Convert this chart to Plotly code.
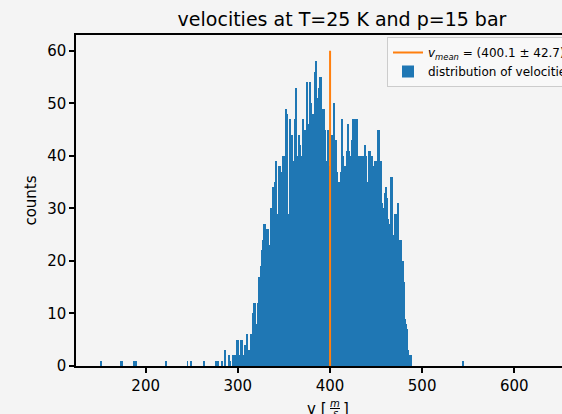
import plotly.graph_objects as go

# ---------------- data ----------------
title_text = "velocities at T=25 K and p=15 bar"
v_mean = 400.1
v_std = 42.7
vline_height = 60

bin_width = 1.085          # m/s per histogram bin
dense_start = 286.05       # left edge of first bin of the main block

dense_counts = [
    3, 0, 0, 0, 2, 1, 0, 0, 2, 2, 2, 0,
    5, 5, 2, 2, 5, 5, 2, 1, 4, 2,
    6, 3, 3, 3, 6, 6, 10, 12, 12, 8,
    8, 12, 17, 17, 19, 22, 24, 27, 27, 26,
    25, 26, 23, 22, 30, 25, 34, 28, 35, 39,
    29, 28, 38, 38, 34, 37, 40, 40, 40, 49,
    48, 29, 23, 47, 44, 44, 39, 39, 47, 53,
    40, 39, 44, 42, 40, 40, 47, 45, 40, 45,
    54, 37, 46, 54, 50, 32, 48, 48, 56, 58,
    51, 30, 53, 55, 55, 42, 49, 49, 45, 39,
    38, 45, 38, 38, 38, 44, 44, 50, 43, 43,
    37, 33, 35, 35, 37, 47, 40, 37, 38, 38,
    41, 46, 41, 35, 40, 43, 47, 34, 47, 45,
    47, 40, 35, 40, 38, 40, 39, 40, 42, 40,
    35, 33, 41, 41, 32, 40, 38, 38, 39, 39,
    39, 45, 45, 39, 39, 31, 30, 26, 33, 34,
    32, 28, 27, 26, 36, 36, 25, 24, 29, 29,
    14, 31, 18, 24, 24, 20, 20, 16, 9, 8,
    7, 3, 2, 0, 2,
]

outlier_v = [152.0, 172.7, 173.8, 187.8, 188.9, 190.0, 222.6, 245.4,
             249.7, 263.8, 276.8, 279.0, 282.3, 544.9]
outlier_counts = [1, 1, 1, 1, 1, 1, 1, 1, 1, 1, 1, 1, 1, 1]

x_ticks = [200, 300, 400, 500, 600]
y_ticks = [0, 10, 20, 30, 40, 50, 60]
x_range = [124.4, 651.8]
y_range = [0, 63]

# ---------------- build ----------------
bar_x = [dense_start + (i + 0.5) * bin_width for i in range(len(dense_counts))] + outlier_v
bar_y = dense_counts + outlier_counts

BLUE = "#1f77b4"
ORANGE = "#ff7f0e"
BG = "#f4f4f4"
FONT = "DejaVu Sans"

fig = go.Figure()
fig.add_trace(go.Bar(
    x=bar_x, y=bar_y, width=bin_width,
    marker=dict(color=BLUE, line=dict(width=0)),
    name="distribution of velocities", legendrank=2,
))
fig.add_trace(go.Scatter(
    x=[v_mean, v_mean], y=[0, vline_height], mode="lines",
    line=dict(color=ORANGE, width=2),
    name=f"<i>v<sub>mean</sub></i> = ({v_mean} ± {v_std}) m/s", legendrank=1,
))

L, R, T, B = 76, 0, 35, 48
W, H = 562, 414
pw, ph = W - L - R, H - T - B

def px(xpix):
    return (xpix - L) / pw

def py(ypix):
    return (H - B - ypix) / ph

fig.update_layout(
    width=W, height=H,
    margin=dict(l=L, r=R, t=T, b=B, pad=0, autoexpand=False),
    paper_bgcolor=BG, plot_bgcolor=BG,
    font=dict(family=FONT, size=15, color="black"),
    bargap=0,
    showlegend=True,
    title=dict(text=title_text, font=dict(size=19, family=FONT, color="black"),
               xref="container", x=342 / W, xanchor="center",
               yref="container", y=1 - 19 / H, yanchor="middle"),
    legend=dict(x=px(387), y=py(37), xanchor="left", yanchor="top",
                bgcolor="rgba(248,248,248,1)", bordercolor="#cccccc", borderwidth=1,
                font=dict(size=12, family=FONT, color="black"),
                itemwidth=30, tracegroupgap=0),
    xaxis=dict(range=x_range, tickvals=x_ticks, ticks="outside", ticklen=5, tickwidth=1.5,
               tickcolor="black", showline=True, linecolor="black", linewidth=1.5,
               mirror=True, showgrid=False, zeroline=False, tickfont=dict(size=15),
               automargin=False),
    yaxis=dict(range=y_range, tickvals=y_ticks, ticks="outside", ticklen=5, tickwidth=1.5,
               tickcolor="black", showline=True, linecolor="black", linewidth=1.5,
               showgrid=False, zeroline=False, tickfont=dict(size=15), automargin=False,
               title=dict(text="counts", font=dict(size=15), standoff=7)),
)

# x axis label: v [m/s] with stacked fraction
ann = dict(xref="paper", yref="paper", showarrow=False, font=dict(family=FONT, size=15, color="black"))
fig.add_annotation(text="v [", x=px(329), y=py(409), xanchor="right", yanchor="middle", **ann)
fig.add_annotation(text="<i>m</i>", x=px(335), y=py(403.5), xanchor="center", yanchor="middle",
                   xref="paper", yref="paper", showarrow=False,
                   font=dict(family=FONT, size=10, color="black"))
fig.add_annotation(text="<i>s</i>", x=px(335), y=py(413), xanchor="center", yanchor="middle",
                   xref="paper", yref="paper", showarrow=False,
                   font=dict(family=FONT, size=10, color="black"))
fig.add_annotation(text="]", x=px(341), y=py(409), xanchor="left", yanchor="middle", **ann)
fig.add_shape(type="line", xref="paper", yref="paper", x0=px(330), x1=px(340),
              y0=py(408.5), y1=py(408.5), line=dict(color="black", width=1))

fig.write_html("out.html")
